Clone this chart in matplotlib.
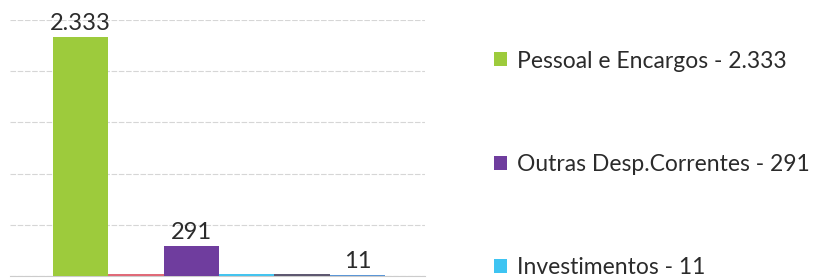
import matplotlib
matplotlib.use("Agg")
import matplotlib.pyplot as plt
from matplotlib.patches import Patch

plt.rcParams['font.family'] = ['Lato', 'DejaVu Sans']

# data
series = ["Pessoal e Encargos", "s2", "Outras Desp.Correntes", "s4", "s5", "Investimentos"]
values = [2333, 18, 291, 16, 20, 11]
value_labels = ["2.333", "", "291", "", "", "11"]
colors = ["#9dcb3c", "#e06a78", "#6f3d9e", "#45c4ef", "#5e5870", "#5b96d6"]
legend_items = [("Pessoal e Encargos - 2.333", "#9dcb3c"),
                ("Outras Desp.Correntes - 291", "#6f3d9e"),
                ("Investimentos - 11", "#3ec4f2")]
yticks = [0, 500, 1000, 1500, 2000, 2500]

W, H = 820, 279
fig = plt.figure(figsize=(W / 100, H / 100), dpi=100)
ax = fig.add_axes([10 / W, 3 / H, 415 / W, 256 / H])

x = list(range(len(values)))
ax.bar(x, values, width=1.0, color=colors, zorder=3)
ax.set_xlim(-1.278, 6.22)
ax.set_ylim(0, 2500)
ax.set_yticks(yticks)
ax.yaxis.grid(True, color="#d6d6d6", lw=0.8, ls=(0, (5, 1.5)), zorder=0)
ax.set_xticks([])
ax.tick_params(left=False, labelleft=False)
for s in ["top", "right", "left"]:
    ax.spines[s].set_visible(False)
ax.spines["bottom"].set_color("#cccccc")
ax.spines["bottom"].set_linewidth(0.8)
ax.spines["bottom"].set_zorder(1)

for xi, v, lab in zip(x, values, value_labels):
    if lab:
        ax.annotate(lab, (xi, v), xytext=(0, 2), textcoords="offset points",
                    ha="center", va="bottom", fontsize=17, color="#2b2b2b",
                    clip_on=False, annotation_clip=False, zorder=4)

handles = [Patch(facecolor=c, edgecolor="none", label=l) for l, c in legend_items]
fig.legend(handles=handles, loc="center left", bbox_to_anchor=(494 / W, 1 - 164.5 / H),
           frameon=False, fontsize=16.5, labelcolor="#2b2b2b", handlelength=0.57,
           handleheight=0.57, handletextpad=0.45, labelspacing=3.6,
           borderpad=0, borderaxespad=0)

fig.savefig("out.png", dpi=100, facecolor="white")
